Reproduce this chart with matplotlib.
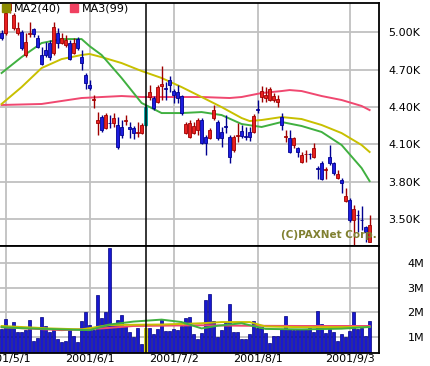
import numpy as np
import matplotlib
matplotlib.use('Agg')
import matplotlib.pyplot as plt

# daily candles (won), one per trading day from late april to early september 2001
opens = [4995, 4995, 5180, 5035, 4995, 5005, 4820, 4990, 5030, 4955,
         4820, 4860, 4915, 4835, 4995, 4915, 4900, 4915, 4835, 4945,
         4805, 4660, 4580, 4460, 4270, 4320, 4230, 4275, 4270, 4255,
         4240, 4290, 4240, 4230, 4195, 4190, 4255, 4480, 4475, 4440,
         4570, 4550, 4620, 4530, 4520, 4490, 4190, 4160, 4190, 4215,
         4295, 4160, 4150, 4310, 4280, 4200, 4245, 4160, 4055, 4170,
         4210, 4165, 4200, 4200, 4380, 4480, 4475, 4455, 4455, 4440,
         4320, 4160, 4150, 4095, 4070, 3960, 4020, 4025, 4000, 3910,
         3950, 3895, 4000, 3950, 3830, 3815, 3645, 3655, 3490, 3535,
         3495, 3435, 3315]
highs = [5020, 5220, 5235, 5155, 5085, 5020, 4995, 5085, 5035, 4980,
         4885, 4925, 4940, 5085, 5035, 4995, 4980, 4940, 4955, 4965,
         4860, 4675, 4620, 4495, 4360, 4335, 4350, 4335, 4350, 4320,
         4295, 4335, 4280, 4250, 4280, 4270, 4415, 4580, 4490, 4580,
         4730, 4600, 4650, 4545, 4580, 4495, 4280, 4295, 4280, 4310,
         4310, 4175, 4230, 4415, 4295, 4240, 4335, 4175, 4175, 4270,
         4255, 4240, 4240, 4345, 4455, 4570, 4560, 4560, 4515, 4495,
         4350, 4215, 4215, 4160, 4080, 4040, 4055, 4030, 4110, 3925,
         3965, 3920, 4095, 3960, 3895, 3830, 3750, 3670, 3615, 3570,
         3605, 3445, 3530]
lows = [4940, 4980, 5155, 5020, 4980, 4860, 4805, 4965, 4965, 4875,
        4735, 4805, 4780, 4820, 4875, 4905, 4885, 4780, 4825, 4860,
        4700, 4545, 4535, 4395, 4175, 4200, 4225, 4230, 4240, 4065,
        4150, 4255, 4150, 4145, 4160, 4185, 4250, 4455, 4375, 4435,
        4455, 4455, 4520, 4435, 4435, 4335, 4185, 4150, 4185, 4175,
        4100, 4015, 4145, 4295, 4135, 4080, 4190, 3950, 4040, 4120,
        4150, 4135, 4125, 4190, 4350, 4440, 4440, 4450, 4440, 4400,
        4215, 4120, 4030, 4070, 4000, 3950, 3960, 3980, 3990, 3820,
        3815, 3820, 3935, 3855, 3820, 3710, 3635, 3475, 3290, 3395,
        3410, 3315, 3315]
closes = [4955, 5155, 5230, 5140, 5035, 4875, 4925, 4995, 4985, 4885,
          4745, 4820, 4800, 5045, 4915, 4955, 4940, 4785, 4915, 4875,
          4755, 4595, 4555, 4465, 4295, 4215, 4335, 4270, 4310, 4080,
          4175, 4295, 4225, 4190, 4200, 4255, 4400, 4520, 4395, 4560,
          4585, 4545, 4580, 4495, 4475, 4350, 4265, 4270, 4250, 4295,
          4110, 4110, 4215, 4375, 4150, 4150, 4240, 4000, 4160, 4175,
          4165, 4160, 4160, 4330, 4375, 4530, 4495, 4545, 4490, 4465,
          4255, 4165, 4040, 4150, 4040, 4015, 4025, 4020, 4070, 3905,
          3820, 3900, 3950, 3870, 3860, 3790, 3685, 3490, 3580, 3530,
          3490, 3395, 3450]

# volume in millions
volumes = [1.30, 1.72, 1.41, 1.60, 1.19, 1.19, 1.27, 1.68, 0.82, 0.95,
           1.80, 1.44, 1.19, 1.27, 0.90, 0.78, 0.82, 1.27, 1.03, 0.78,
           1.64, 2.01, 1.48, 1.27, 2.71, 1.76, 2.01, 4.62, 1.52, 1.68,
           1.89, 1.44, 1.19, 0.99, 1.35, 0.70, 1.34, 1.35, 1.11, 1.31,
           1.72, 1.23, 1.23, 1.31, 1.27, 1.44, 1.76, 1.80, 1.11, 0.90,
           1.15, 2.50, 2.75, 1.64, 0.99, 1.27, 1.56, 2.34, 1.19, 1.19,
           0.90, 0.90, 1.11, 1.64, 1.35, 1.40, 1.15, 0.74, 1.03, 1.03,
           1.31, 1.85, 1.31, 1.27, 1.31, 1.31, 1.31, 1.35, 1.19, 2.05,
           1.52, 1.15, 1.31, 1.19, 0.82, 1.11, 0.99, 1.23, 2.01, 1.31,
           1.35, 1.03, 1.64]

# moving averages (bar index, value)
ma1_idx = [0, 5, 10, 15, 20, 22, 25, 30, 35, 40, 45, 50, 55, 60, 65, 70, 75, 80, 85, 90, 92]
ma1_val = [4674, 4802, 4915, 4947, 4947, 4890, 4819, 4634, 4433, 4352, 4352, 4360, 4336,
           4264, 4240, 4280, 4248, 4200, 4095, 3910, 3805]
ma2_idx = [0, 5, 10, 15, 20, 22, 25, 30, 35, 40, 45, 50, 55, 60, 62, 65, 70, 75, 80, 85, 90, 92]
ma2_val = [4425, 4561, 4714, 4786, 4819, 4827, 4802, 4754, 4690, 4634, 4561, 4481, 4400,
           4312, 4288, 4296, 4320, 4304, 4256, 4191, 4095, 4039]
ma3_idx = [0, 10, 15, 20, 25, 30, 35, 50, 57, 60, 65, 70, 72, 75, 80, 85, 90, 92]
ma3_val = [4417, 4425, 4449, 4473, 4481, 4489, 4481, 4481, 4473, 4481, 4513, 4529, 4537,
           4529, 4489, 4457, 4409, 4376]

vma1_idx = [0, 5, 15, 22, 27, 33, 40, 45, 50, 54, 60, 66, 75, 85, 92]
vma1_val = [1.39, 1.35, 1.30, 1.27, 1.50, 1.62, 1.70, 1.60, 1.34, 1.45, 1.55, 1.32, 1.30, 1.33, 1.40]
vma2_idx = [0, 12, 20, 27, 40, 50, 55, 62, 66, 75, 92]
vma2_val = [1.44, 1.34, 1.30, 1.48, 1.50, 1.55, 1.60, 1.60, 1.42, 1.39, 1.40]
vma3_idx = [0, 15, 25, 33, 50, 60, 75, 92]
vma3_val = [1.39, 1.27, 1.34, 1.44, 1.47, 1.45, 1.44, 1.44]

date_pos = [1, 22, 43, 64, 87]
date_labels = ['2001/5/1', '2001/6/1', '2001/7/2', '2001/8/1', '2001/9/3']
price_ticks = [3500, 3800, 4100, 4400, 4700, 5000]
price_labels = ['3.50K', '3.80K', '4.10K', '4.40K', '4.70K', '5.00K']
vol_ticks = [1, 2, 3, 4]
vol_labels = ['1M', '2M', '3M', '4M']
cursor = 36  # bar under the crosshair

W, H = 431, 366
fig = plt.figure(figsize=(W / 100, H / 100), dpi=100)
ax1 = fig.add_axes([0, 1 - 246 / H, 379 / W, 243 / H])
ax2 = fig.add_axes([0, 1 - 353 / H, 379 / W, 107 / H])

x = np.arange(len(closes))
o = np.array(opens)
c = np.array(closes)
up = c >= o
grid_col = '#c0c0c0'

for ax in (ax1, ax2):
    ax.set_xlim(-0.4, 94.35)
    for p in date_pos:
        ax.axvline(p, color=grid_col, lw=1.3, zorder=0)
    for s in ax.spines.values():
        s.set_linewidth(1.3)
    ax.spines['left'].set_visible(False)
    ax.yaxis.tick_right()
    ax.tick_params(axis='y', length=0, labelsize=8)

# price panel
ax1.set_ylim(3283, 5237)
for t in price_ticks:
    ax1.axhline(t, color=grid_col, lw=1.3, zorder=0)
ax1.plot(ma3_idx, ma3_val, color='#f04870', lw=1.4, zorder=2)
ax1.plot(ma2_idx, ma2_val, color='#c8c000', lw=1.4, zorder=2)
ax1.plot(ma1_idx, ma1_val, color='#40b040', lw=1.4, zorder=2)

for i in x:
    if i == cursor:
        face, edge = '#00d0d0', '#00a0a0'
    elif up[i]:
        face, edge = '#e82020', '#a00000'
    else:
        face, edge = '#1c1ce0', '#000090'
    ax1.vlines(i, lows[i], highs[i], color=edge, lw=1, zorder=3)
    h = max(abs(c[i] - o[i]), 6)
    ax1.bar(i, h, bottom=min(o[i], c[i]), width=0.75, color=face,
            edgecolor=edge, lw=0.6, zorder=4)

ax1.set_yticks(price_ticks, price_labels)
ax1.tick_params(axis='y', pad=6.5)
ax1.set_xticks([])

# volume panel
ax2.set_ylim(0.335, 4.71)
for t in vol_ticks:
    ax2.axhline(t, color=grid_col, lw=1.3, zorder=0)
vcol = ['#1818d0'] * len(volumes)
vedge = ['#000080'] * len(volumes)
vcol[cursor] = '#e8e800'
vedge[cursor] = '#c8c800'
ax2.bar(x, volumes, width=0.65, color=vcol, edgecolor=vedge, lw=0.5, zorder=2)
ax2.plot(vma3_idx, vma3_val, color='#f04870', lw=1.4, zorder=3)
ax2.plot(vma2_idx, vma2_val, color='#c8c000', lw=1.4, zorder=3)
ax2.plot(vma1_idx, vma1_val, color='#40b040', lw=1.4, zorder=3)
ax2.set_yticks(vol_ticks, vol_labels)
ax2.tick_params(axis='y', pad=20.5)
ax2.set_xticks(date_pos, date_labels)
ax2.tick_params(axis='x', length=0, pad=1, labelsize=8)

# crosshair through both panels
ax1.axvline(cursor, color='black', lw=1.1, zorder=5)
ax2.axvline(cursor, color='black', lw=1.1, zorder=5)

# legend and copyright
fig.patches.append(plt.Rectangle((2 / W, 1 - 12 / H), 8 / W, 8 / H, transform=fig.transFigure,
                                 color='#8c8c00', zorder=10))
fig.text(14 / W, 1 - 8.5 / H, 'MA2(40)', fontsize=8, va='center', ha='left')
fig.patches.append(plt.Rectangle((70 / W, 1 - 12 / H), 8 / W, 8 / H, transform=fig.transFigure,
                                 color='#f04060', zorder=10))
fig.text(82 / W, 1 - 8.5 / H, 'MA3(99)', fontsize=8, va='center', ha='left')
ax1.text(0.995, 0.045, '(C)PAXNet Corp.', transform=ax1.transAxes, ha='right', va='center',
         fontsize=7.5, fontweight='bold', color='#808030', zorder=6)

fig.savefig('out.png', dpi=100)
